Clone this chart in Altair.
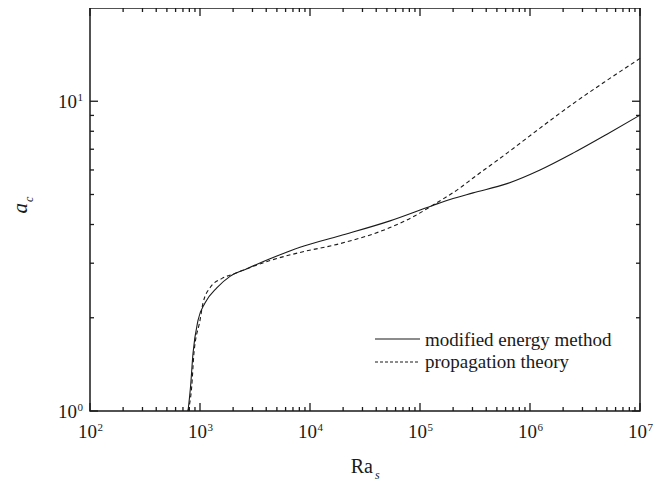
import altair as alt
import pandas as pd

# ---- data ----
ra_energy = [778, 820, 864, 959, 1110, 1428, 1874, 2670, 4330, 8110, 18740, 53370,
             128500, 187400, 303600, 618000, 1233000, 2460000, 5010000, 10000000]
a_energy = [1.00, 1.195, 1.536, 1.96, 2.23, 2.50, 2.72, 2.88, 3.10, 3.38, 3.68, 4.11,
            4.60, 4.82, 5.06, 5.42, 6.00, 6.80, 7.83, 9.02]

ra_prop = [778, 840, 881, 1000, 1065, 1233, 1585, 2080, 2670, 4330, 8110, 18740, 53370,
           90200, 128500, 231000, 303600, 618000, 1233000, 2460000, 5010000, 10000000]
a_prop = [1.00, 1.195, 1.536, 1.96, 2.23, 2.50, 2.68, 2.78, 2.88, 3.06, 3.25, 3.47, 3.91,
          4.27, 4.60, 5.25, 5.65, 6.80, 8.19, 9.82, 11.68, 13.75]

x_major = [1e2, 1e3, 1e4, 1e5, 1e6, 1e7]
x_exp = ["2", "3", "4", "5", "6", "7"]
x_minor = [m * 10 ** k for k in range(2, 7) for m in range(2, 10)]
y_major = [1, 10]
y_exp = ["0", "1"]
y_minor = [2, 3, 4, 5, 6, 7, 8, 9]

legend_labels = ["modified energy method", "propagation theory"]

# ---- layout ----
W, H = 550, 403
FONT = "Liberation Serif"
INK = "#1a1a1a"
MAJ, MIN = 8, 4

xs = alt.Scale(type="log", domain=[100, 1e7], nice=False)
ys = alt.Scale(type="log", domain=[1, 20], nice=False)

def X(f="x"):
    return alt.X(f"{f}:Q", scale=xs, axis=None)

def Y(f="y"):
    return alt.Y(f"{f}:Q", scale=ys, axis=None)

layers = []

# curves
df_e = pd.DataFrame({"x": ra_energy, "y": a_energy})
df_p = pd.DataFrame({"x": ra_prop, "y": a_prop})
layers.append(alt.Chart(df_e).mark_line(color=INK, strokeWidth=1.1, interpolate="monotone")
              .encode(x=X(), y=Y()))
layers.append(alt.Chart(df_p).mark_line(color=INK, strokeWidth=1.1, strokeDash=[4, 3],
                                        interpolate="monotone")
              .encode(x=X(), y=Y()))

# ticks (inward, on all four sides)
def xticks(vals, ln):
    d = pd.DataFrame({"x": vals})
    bot = alt.Chart(d).mark_rule(color=INK, strokeWidth=1.3).encode(
        x=X(), y=alt.value(H), y2=alt.value(H - ln))
    top = alt.Chart(d).mark_rule(color=INK, strokeWidth=1.3).encode(
        x=X(), y=alt.value(0), y2=alt.value(ln))
    return [bot, top]

def yticks(vals, ln):
    d = pd.DataFrame({"y": vals})
    left = alt.Chart(d).mark_rule(color=INK, strokeWidth=1.3).encode(
        y=Y(), x=alt.value(0), x2=alt.value(ln))
    right = alt.Chart(d).mark_rule(color=INK, strokeWidth=1.3).encode(
        y=Y(), x=alt.value(W), x2=alt.value(W - ln))
    return [left, right]

layers += xticks(x_major, MAJ) + xticks(x_minor, MIN)
layers += yticks(y_major, MAJ) + yticks(y_minor, MIN)

# tick labels 10^k
dxl = pd.DataFrame({"x": x_major, "e": x_exp, "b": ["10"] * len(x_major)})
layers.append(alt.Chart(dxl).mark_text(font=FONT, fontSize=19, color=INK, align="right",
                                       baseline="alphabetic", dx=7)
              .encode(x=X(), y=alt.value(H + 27), text="b:N"))
layers.append(alt.Chart(dxl).mark_text(font=FONT, fontSize=11, color=INK, align="left",
                                       baseline="alphabetic", dx=7.5)
              .encode(x=X(), y=alt.value(H + 20), text="e:N"))

dyl = pd.DataFrame({"y": y_major, "e": y_exp, "b": ["10"] * len(y_major)})
layers.append(alt.Chart(dyl).mark_text(font=FONT, fontSize=19, color=INK, align="right",
                                       baseline="alphabetic", dy=6.5)
              .encode(y=Y(), x=alt.value(-13), text="b:N"))
layers.append(alt.Chart(dyl).mark_text(font=FONT, fontSize=11, color=INK, align="left",
                                       baseline="alphabetic", dy=0)
              .encode(y=Y(), x=alt.value(-12.5), text="e:N"))

# axis titles
one = pd.DataFrame({"t": [""]})
layers.append(alt.Chart(one).mark_text(text="Ra", font=FONT, fontSize=20, color=INK,
                                       align="right", baseline="alphabetic")
              .encode(x=alt.value(W / 2 + 8), y=alt.value(H + 62)))
layers.append(alt.Chart(one).mark_text(text="s", font=FONT, fontSize=12, fontStyle="italic",
                                       color=INK, align="left", baseline="alphabetic")
              .encode(x=alt.value(W / 2 + 10), y=alt.value(H + 68)))
layers.append(alt.Chart(one).mark_text(text="a", font=FONT, fontSize=21, fontStyle="italic",
                                       color=INK, align="right", baseline="alphabetic",
                                       angle=270)
              .encode(x=alt.value(-63), y=alt.value(195)))
layers.append(alt.Chart(one).mark_text(text="c", font=FONT, fontSize=12, fontStyle="italic",
                                       color=INK, align="left", baseline="alphabetic",
                                       angle=270)
              .encode(x=alt.value(-57), y=alt.value(194)))

# legend (drawn by hand)
layers.append(alt.Chart(one).mark_rule(color=INK, strokeWidth=1.1)
              .encode(x=alt.value(285), x2=alt.value(330), y=alt.value(331)))
layers.append(alt.Chart(one).mark_rule(color=INK, strokeWidth=1.1, strokeDash=[3, 2])
              .encode(x=alt.value(285), x2=alt.value(330), y=alt.value(354)))
layers.append(alt.Chart(one).mark_text(text=legend_labels[0], font=FONT, fontSize=19, color=INK,
                                       align="left", baseline="alphabetic")
              .encode(x=alt.value(335), y=alt.value(338)))
layers.append(alt.Chart(one).mark_text(text=legend_labels[1], font=FONT, fontSize=19, color=INK,
                                       align="left", baseline="alphabetic")
              .encode(x=alt.value(335), y=alt.value(360)))

chart = alt.layer(*layers).properties(
    width=W, height=H,
    autosize=alt.AutoSizeParams(type="none"),
    padding={"left": 82, "top": 0, "right": 22, "bottom": 74},
    background="white",
).configure_view(stroke=INK, strokeWidth=1.5)

chart.save("out.html", embed_options={"renderer": "svg", "actions": False})
